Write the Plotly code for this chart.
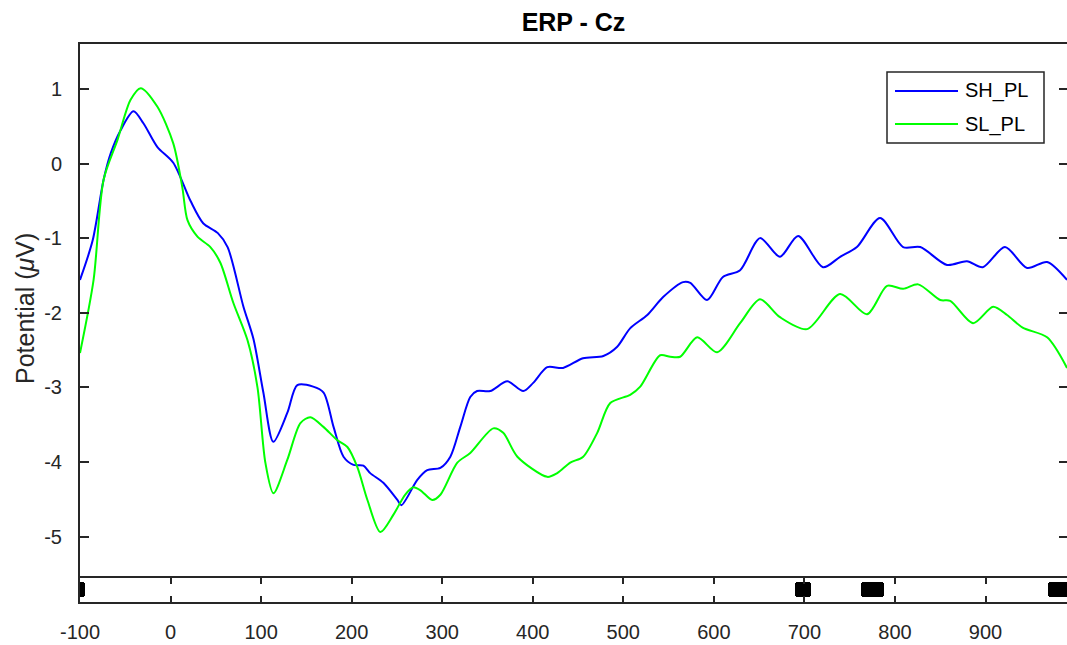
import plotly.graph_objects as go

# ERP waveforms at electrode Cz (time in ms, potential in microvolts)
time_sh = [-100, -86, -74, -66, -55, -41, -30, -14.5, 3, 22, 36, 52, 63, 80.5, 91.5,
           102.5, 113.5, 129, 140, 157.5, 169, 180, 191, 202, 213, 220.5, 235, 250.5,
           255, 272.5, 283.5, 298, 309, 320, 331, 338.5, 353, 372, 389.5, 400.5, 416,
           433.5, 455.5, 478, 493, 507.5, 526.5, 544, 566, 574, 592.5, 610, 629, 651,
           673, 693, 720.5, 739.5, 758, 783.5, 809, 828, 857.5, 879.5, 897, 921.5, 946,
           968, 990]
sh_pl = [-1.56, -1.03, -0.22, 0.14, 0.45, 0.70, 0.54, 0.22, 0.01, -0.50, -0.80, -0.93,
         -1.12, -1.92, -2.35, -3.07, -3.73, -3.34, -2.97, -2.99, -3.07, -3.53, -3.93,
         -4.04, -4.05, -4.15, -4.28, -4.51, -4.58, -4.24, -4.11, -4.08, -3.93, -3.53,
         -3.13, -3.05, -3.05, -2.92, -3.05, -2.94, -2.73, -2.74, -2.61, -2.58, -2.46,
         -2.21, -2.03, -1.79, -1.59, -1.60, -1.83, -1.52, -1.43, -1.00, -1.25, -0.97,
         -1.39, -1.25, -1.12, -0.73, -1.12, -1.12, -1.36, -1.31, -1.39, -1.12, -1.40,
         -1.32, -1.56]

time_sl = [-100, -85, -74, -58.5, -44.3, -33, -14.5, 3, 13, 18.7, 29.7, 44, 55, 69.4,
           85, 96, 104.7, 113.6, 129, 143.4, 154.4, 168.8, 184.3, 195.3, 206.3, 217.4,
           231.7, 246, 259, 268, 276, 289, 298, 316.7, 331, 356.4, 367.4, 383, 416, 427,
           441.4, 455.7, 471.2, 485.6, 507.6, 518.7, 540.7, 551.8, 562.8, 581.6, 603.6,
           629, 651, 673, 703, 739.4, 769.2, 791.3, 809, 825.6, 850, 861, 886.3, 908.4,
           923.8, 941, 968, 990]
sl_pl = [-2.54, -1.56, -0.22, 0.32, 0.85, 1.01, 0.76, 0.27, -0.32, -0.76, -0.98, -1.12,
         -1.33, -1.87, -2.37, -3.00, -4.01, -4.42, -3.97, -3.48, -3.40, -3.53, -3.71,
         -3.80, -4.07, -4.51, -4.94, -4.71, -4.44, -4.34, -4.38, -4.51, -4.44, -4.01,
         -3.88, -3.55, -3.61, -3.93, -4.20, -4.15, -4.01, -3.93, -3.61, -3.21, -3.10,
         -2.99, -2.57, -2.59, -2.59, -2.33, -2.53, -2.14, -1.82, -2.06, -2.22, -1.75,
         -2.02, -1.64, -1.68, -1.62, -1.83, -1.84, -2.14, -1.92, -2.03, -2.20, -2.33,
         -2.74]

series_names = ["SH_PL", "SL_PL"]
series_colors = ["#0000ff", "#00ff00"]

# Significant time windows (ms)
sig_start = [-103, 690, 762, 969]
sig_end = [-94, 707, 788, 1000]

x_ticks = [-100, 0, 100, 200, 300, 400, 500, 600, 700, 800, 900]
x_tick_text = ["-100", "0", "100", "200", "300", "400", "500", "600", "700", "800", "900"]
y_ticks = [-5, -4, -3, -2, -1, 0, 1]
y_tick_text = ["-5", "-4", "-3", "-2", "-1", "0", "1"]

W, H = 1067, 645
L, R, T, B = 80, 0, 44, 43
# plot-area edges in page pixels (left, right, top, bottom)
AREA_L, AREA_R, AREA_T, AREA_B = L, W - R, T, H - B
FONT = "Liberation Sans, Arial, Helvetica, sans-serif"
AX = "#262626"
Y_RANGE = [-5.529, 1.602]
X_RANGE = [-100, 990]


def px_x(px):
    return (px - AREA_L) / (AREA_R - AREA_L)


def px_y(py):
    return (AREA_B - py) / (AREA_B - AREA_T)


strip_top = px_y(578)
main_bottom = px_y(576)

fig = go.Figure()

# SH_PL on the left-hand axis, SL_PL on the overlaid right-hand one (same range)
fig.add_trace(go.Scatter(x=time_sh, y=sh_pl, name=series_names[0], mode="lines",
                         line=dict(color=series_colors[0], width=2, shape="spline",
                                   smoothing=0.8),
                         showlegend=False, xaxis="x", yaxis="y"))
fig.add_trace(go.Scatter(x=time_sl, y=sl_pl, name=series_names[1], mode="lines",
                         line=dict(color=series_colors[1], width=2, shape="spline",
                                   smoothing=0.8),
                         showlegend=False, xaxis="x", yaxis="y3"))

centers = [(s + e) / 2 for s, e in zip(sig_start, sig_end)]
widths = [e - s for s, e in zip(sig_start, sig_end)]
fig.add_trace(go.Bar(x=centers, y=[0.62] * len(centers), base=0.2, width=widths,
                     marker=dict(color="black", line=dict(width=0)),
                     showlegend=False, cliponaxis=False, xaxis="x2", yaxis="y2"))

fig.update_layout(
    width=W, height=H,
    margin=dict(l=L, r=R, t=T, b=B),
    paper_bgcolor="white", plot_bgcolor="white",
    barcornerradius=3,
    font=dict(family=FONT, color=AX),
    title=dict(text="<b>ERP - Cz</b>", x=px_x(573.5), xref="paper", xanchor="center",
               y=1 - 22 / H, yref="container", yanchor="middle",
               font=dict(size=25, color="black", family=FONT)),
    xaxis=dict(domain=[0, 1], range=X_RANGE, anchor="y", automargin=False,
               showline=True, linecolor=AX, linewidth=2, mirror=True,
               ticks="", showticklabels=False, showgrid=False, zeroline=False),
    yaxis=dict(domain=[main_bottom, 1], range=Y_RANGE, anchor="x", automargin=False,
               showline=True, linecolor=AX, linewidth=2, mirror=False,
               ticks="inside", ticklen=9, tickwidth=1.5, tickcolor=AX,
               tickvals=y_ticks, ticktext=y_tick_text, ticklabelstandoff=12,
               tickfont=dict(size=20, color=AX),
               showgrid=False, zeroline=False),
    yaxis3=dict(overlaying="y", side="right", range=Y_RANGE, anchor="x", automargin=False,
                showline=False, ticks="inside", ticklen=8, tickwidth=1.5, tickcolor=AX,
                tickvals=y_ticks, showticklabels=False,
                showgrid=False, zeroline=False),
    xaxis2=dict(domain=[0, 1], range=X_RANGE, anchor="y2", matches="x", automargin=False,
                showline=True, linecolor=AX, linewidth=2, mirror="ticks",
                ticks="inside", ticklen=6, tickwidth=1.5, tickcolor=AX,
                tickvals=x_ticks, ticktext=x_tick_text, ticklabelstandoff=11,
                tickfont=dict(size=20, color=AX),
                showgrid=False, zeroline=False),
    yaxis2=dict(domain=[0, strip_top], range=[0, 1], anchor="x2", automargin=False,
                showline=True, linecolor=AX, linewidth=2, mirror=False,
                ticks="", showticklabels=False, showgrid=False, zeroline=False),
    bargap=0,
)

# Axis label
fig.add_annotation(text="Potential (<i>μ</i>V)", textangle=-90, showarrow=False,
                   xref="paper", yref="paper", x=px_x(25), y=px_y(309),
                   xanchor="center", yanchor="middle",
                   font=dict(size=25, color=AX, family=FONT))

# Legend box with line samples
fig.add_shape(type="rect", xref="paper", yref="paper",
              x0=px_x(887), x1=px_x(1044), y0=px_y(143), y1=px_y(72),
              line=dict(color=AX, width=1.5), fillcolor="white", layer="above")
for i, (name, col) in enumerate(zip(series_names, series_colors)):
    yy = px_y(91 + 33 * i)
    fig.add_shape(type="line", xref="paper", yref="paper",
                  x0=px_x(895), x1=px_x(958), y0=yy, y1=yy,
                  line=dict(color=col, width=2), layer="above")
    fig.add_annotation(text=name, showarrow=False, xref="paper", yref="paper",
                       x=px_x(963), y=yy, xanchor="left", yanchor="middle",
                       font=dict(size=20, color="black", family=FONT))

fig.write_html("out.html")
